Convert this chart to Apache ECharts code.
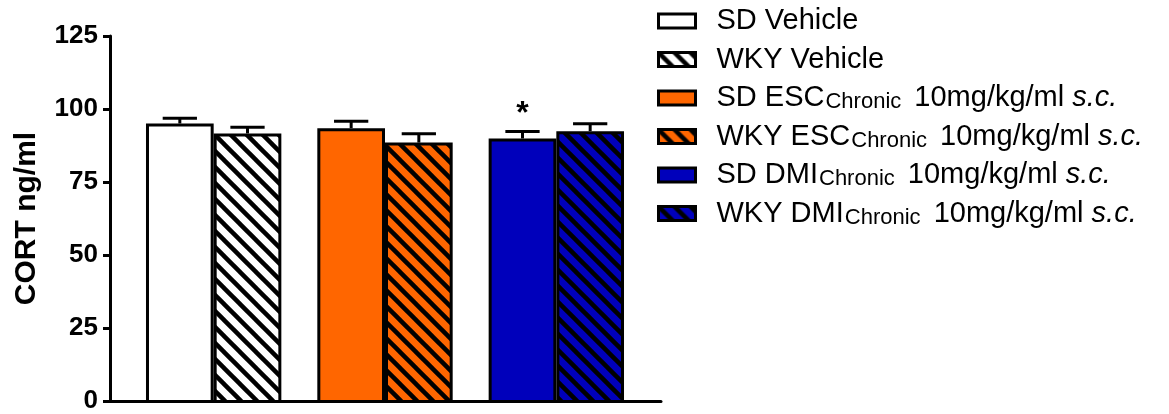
<!DOCTYPE html>
<html>
<head>
<meta charset="utf-8">
<script src="https://cdn.jsdelivr.net/npm/echarts@6/dist/echarts.min.js"></script>
<style>
  html, body { margin: 0; padding: 0; background: #fff; }
  #chart { width: 1169px; height: 414px; }
</style>
</head>
<body>
<div id="chart"></div>
<script>
// Treatment groups along the x axis
const groups = ['Vehicle', 'ESC', 'DMI'];
// Mean CORT (ng/ml) and SEM for each strain
const sdMean = [95.2, 93.6, 90.1];
const sdSem = [1.8, 2.4, 2.4];
const wkyMean = [91.8, 88.7, 92.6];
const wkySem = [2.1, 3.0, 2.5];
// Significance markers drawn above the error bars
const sdMarks = ['', '', '*'];
const wkyMarks = ['', '', ''];
// Legend entries (SD, WKY per group)
const seriesNames = ['SD Vehicle', 'WKY Vehicle', 'SD ESC', 'WKY ESC', 'SD DMI', 'WKY DMI'];
const legendLabels = [
  'SD Vehicle',
  'WKY Vehicle',
  'SD ESC{sub|Chronic} 10mg/kg/ml {it|s.c.}',
  'WKY ESC{sub|Chronic} 10mg/kg/ml {it|s.c.}',
  'SD DMI{sub|Chronic} 10mg/kg/ml {it|s.c.}',
  'WKY DMI{sub|Chronic} 10mg/kg/ml {it|s.c.}'
];
const yTicks = [0, 25, 50, 75, 100, 125];

const groupColors = ['#FFFFFF', '#FF6600', '#0000BB'];
const FONT = 'Liberation Sans, Arial, sans-serif';

// Diagonal black hatching over a fill colour
function hatch(bg) {
  const s = 16;
  const c = document.createElement('canvas');
  c.width = s; c.height = s;
  const ctx = c.getContext('2d');
  ctx.fillStyle = bg;
  ctx.fillRect(0, 0, s, s);
  ctx.strokeStyle = '#000';
  ctx.lineWidth = 4.5;
  for (let x = -s; x <= s; x += s) {
    ctx.beginPath();
    ctx.moveTo(x - 2, -2);
    ctx.lineTo(x + s + 2, s + 2);
    ctx.stroke();
  }
  return { image: c, repeat: 'repeat' };
}

const BAR_GAP_CAT = 0.21;           // share of a band left empty
const barShare = (1 - BAR_GAP_CAT) / 2;

function errorRenderer(side, marks) {
  return function (params, api) {
    const i = api.value(0);
    const band = api.size([1, 0])[0];
    const cx = api.coord([i, 0])[0] + side * band * barShare / 2;
    const yMean = api.coord([i, api.value(1)])[1];
    const yTop = api.coord([i, api.value(1) + api.value(2)])[1];
    const half = band * 0.1;
    const children = [
      { type: 'line', shape: { x1: cx, y1: yMean, x2: cx, y2: yTop },
        style: { stroke: '#000', lineWidth: 3 } },
      { type: 'line', shape: { x1: cx - half, y1: yTop, x2: cx + half, y2: yTop },
        style: { stroke: '#000', lineWidth: 3 } }
    ];
    const m = marks[params.dataIndex];
    if (m) {
      children.push({
        type: 'text',
        style: {
          text: m, x: cx, y: yTop - 1,
          textAlign: 'center', textVerticalAlign: 'bottom',
          fontFamily: FONT, fontWeight: 'bold', fontSize: 32, fill: '#000'
        }
      });
    }
    return { type: 'group', children: children };
  };
}

const series = [];
groups.forEach(function (g, i) {
  const sdData = groups.map(function (_, j) { return j === i ? sdMean[i] : '-'; });
  const wkyData = groups.map(function (_, j) { return j === i ? wkyMean[i] : '-'; });
  series.push({
    name: seriesNames[2 * i], type: 'bar', stack: 'SD',
    xAxisIndex: 1, yAxisIndex: 1,
    barGap: '0%', barCategoryGap: (BAR_GAP_CAT * 100) + '%',
    data: sdData,
    itemStyle: { color: groupColors[i], borderColor: '#000', borderWidth: 3 }
  });
  series.push({
    name: seriesNames[2 * i + 1], type: 'bar', stack: 'WKY',
    xAxisIndex: 1, yAxisIndex: 1,
    barGap: '0%', barCategoryGap: (BAR_GAP_CAT * 100) + '%',
    data: wkyData,
    itemStyle: { color: hatch(groupColors[i]), borderColor: '#000', borderWidth: 3 }
  });
});
series.push({
  type: 'custom', xAxisIndex: 1, yAxisIndex: 1, z: 5,
  renderItem: errorRenderer(-1, sdMarks),
  encode: { x: 0, y: 1 },
  data: groups.map(function (_, j) { return [j, sdMean[j], sdSem[j]]; })
});
series.push({
  type: 'custom', xAxisIndex: 1, yAxisIndex: 1, z: 5,
  renderItem: errorRenderer(1, wkyMarks),
  encode: { x: 0, y: 1 },
  data: groups.map(function (_, j) { return [j, wkyMean[j], wkySem[j]]; })
});

const yMin = yTicks[0], yMax = yTicks[yTicks.length - 1];
const yStep = yTicks[1] - yTicks[0];

const chart = echarts.init(document.getElementById('chart'));
chart.setOption({
  animation: false,
  backgroundColor: '#fff',
  grid: [
    { left: 110, top: 36, width: 551, height: 367 },
    { left: 128, top: 36, width: 514, height: 367 }
  ],
  xAxis: [
    { type: 'category', gridIndex: 0, data: groups,
      axisLine: { lineStyle: { color: '#000', width: 3 } },
      axisTick: { show: false }, axisLabel: { show: false } },
    { type: 'category', gridIndex: 1, data: groups, show: false }
  ],
  yAxis: [
    { type: 'value', gridIndex: 0, min: yMin, max: yMax, interval: yStep,
      name: 'CORT ng/ml', nameLocation: 'middle', nameRotate: 90, nameGap: 68,
      nameTextStyle: { fontFamily: FONT, fontWeight: 'bold', fontSize: 30, color: '#000' },
      axisLine: { show: true, lineStyle: { color: '#000', width: 3 } },
      axisTick: { show: true, length: 7, lineStyle: { color: '#000', width: 3 } },
      axisLabel: { fontFamily: FONT, fontWeight: 'bold', fontSize: 26, color: '#000', margin: 12 },
      splitLine: { show: false } },
    { type: 'value', gridIndex: 1, min: yMin, max: yMax, interval: yStep, show: false,
      splitLine: { show: false } }
  ],
  legend: {
    orient: 'vertical', left: 652, top: 1,
    itemWidth: 37, itemHeight: 14, itemGap: 8.5,
    icon: 'rect',
    data: seriesNames,
    itemStyle: { borderColor: '#000', borderWidth: 3 },
    formatter: function (name) { return legendLabels[seriesNames.indexOf(name)]; },
    textStyle: {
      fontFamily: FONT, fontSize: 29, color: '#000', lineHeight: 30, padding: [0, 0, 0, 16],
      rich: {
        sub: { fontFamily: FONT, fontSize: 22, color: '#000', lineHeight: 12,
               verticalAlign: 'bottom', padding: [0, 5, 0, 1] },
        it: { fontFamily: FONT, fontSize: 29, fontStyle: 'italic', color: '#000', lineHeight: 30 }
      }
    }
  },
  series: series
});
</script>
</body>
</html>
